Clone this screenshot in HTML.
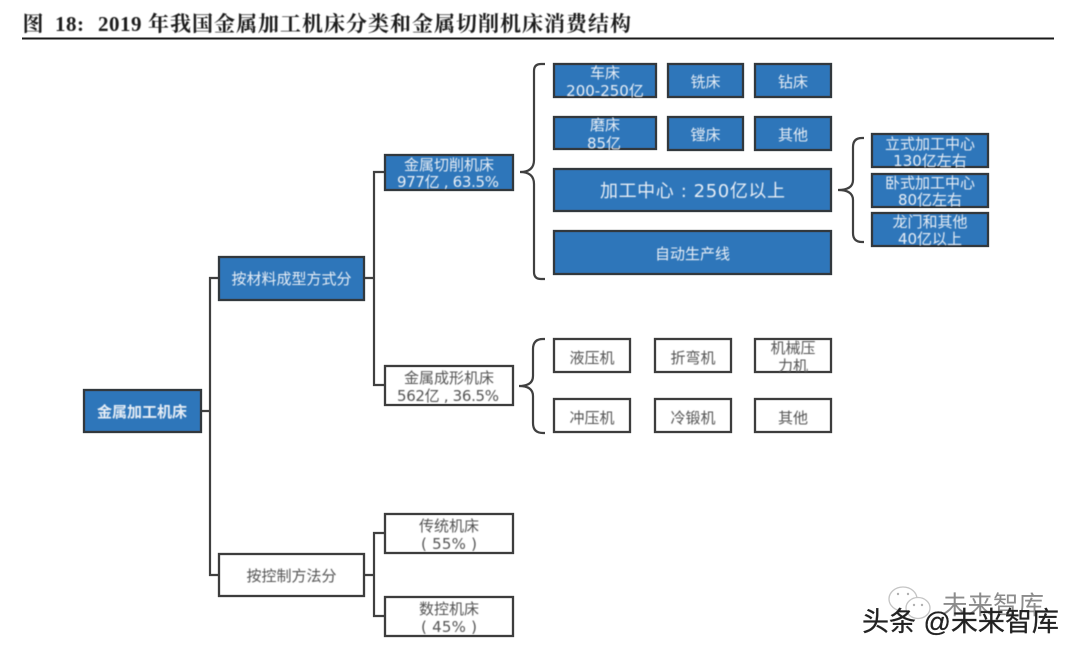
<!DOCTYPE html>
<html lang="zh">
<head>
<meta charset="utf-8">
<title>2019年我国金属加工机床分类和金属切削机床消费结构</title>
<style>
html,body{margin:0;padding:0;background:#fff;width:1080px;height:654px;overflow:hidden}
svg{display:block}
.t{font-family:"DejaVu Sans","Noto Sans CJK SC",sans-serif;font-size:15px;text-anchor:middle}
.w{fill:#e6edf5}
.g{fill:#555}
.b{fill:#2f76ba;stroke:#33373c;stroke-width:2.3}
.n{fill:#fff;stroke:#3c3c3c;stroke-width:2.3}
.l{fill:none;stroke:#3f3f3f;stroke-width:2.2}
.h{font-family:"Liberation Serif","Noto Serif CJK SC",serif;font-weight:700;font-size:21px;fill:#1c1c1c}
</style>
</head>
<body>
<svg width="1080" height="654" viewBox="0 0 1080 654" xmlns="http://www.w3.org/2000/svg">
<defs>
<filter id="s" x="-2%" y="-2%" width="104%" height="104%"><feGaussianBlur stdDeviation="0.35"/></filter>
<filter id="x" x="-2%" y="-2%" width="104%" height="104%"><feGaussianBlur stdDeviation="0.45"/></filter>
</defs>

<g filter="url(#x)">
<text class="h" x="22.500" y="31">图</text>
<text class="h" x="55" y="31" letter-spacing="0.5">18:</text>
<text class="h" x="98" y="31" letter-spacing="0.5">2019</text>
<text class="h" x="148" y="31" letter-spacing="1">年我国金属加工机床分类和金属切削机床消费结构</text>
</g>
<rect x="22" y="37.500" width="1032" height="2" fill="#1a1a1a"/>

<g filter="url(#s)">
<!-- connectors -->
<path class="l" d="M202 411H210M218 278H210V575H218"/>
<path class="l" d="M365 278H374M385 172H374V385H385"/>
<path class="l" d="M365 575H374M385 533H374V616H385"/>
<!-- braces -->
<path class="l" d="M545 64H541Q534 64 534 71V160Q534 172 520 172Q534 172 534 184V272Q534 279 541 279H545"/>
<path class="l" d="M545 339H543Q533 339 533 349V376Q533 386 519 386Q533 386 533 396V423Q533 433 543 433H545"/>
<path class="l" d="M864 138H862Q853 138 853 147V180Q853 190 838 190Q853 190 853 200V233Q853 242 862 242H864"/>

<!-- blue boxes -->
<rect class="b" x="84" y="390" width="117" height="42"/>
<rect class="b" x="219" y="257" width="145" height="43"/>
<rect class="b" x="385" y="155" width="128" height="35"/>
<rect class="b" x="554" y="64" width="102" height="33"/>
<rect class="b" x="668" y="64" width="75" height="33"/>
<rect class="b" x="755" y="64" width="76" height="33"/>
<rect class="b" x="554" y="117" width="102" height="32"/>
<rect class="b" x="668" y="117" width="75" height="33"/>
<rect class="b" x="755" y="117" width="76" height="33"/>
<rect class="b" x="554" y="169" width="277" height="42"/>
<rect class="b" x="554" y="231" width="277" height="43"/>
<rect class="b" x="872" y="134" width="116" height="33"/>
<rect class="b" x="872" y="174" width="116" height="33"/>
<rect class="b" x="872" y="213" width="116" height="33"/>

<!-- white boxes -->
<rect class="n" x="385" y="366" width="128" height="39"/>
<rect class="n" x="219" y="554" width="145" height="42"/>
<rect class="n" x="385" y="514" width="128" height="39"/>
<rect class="n" x="385" y="597" width="128" height="39"/>
<rect class="n" x="554" y="339" width="76" height="33"/>
<rect class="n" x="655" y="339" width="76" height="33"/>
<rect class="n" x="755" y="339" width="76" height="33"/>
<rect class="n" x="554" y="399" width="76" height="33"/>
<rect class="n" x="655" y="399" width="76" height="33"/>
<rect class="n" x="755" y="399" width="76" height="33"/>

<!-- watermark backdrop -->
<g fill="#fff" stroke="#c4c4c4" stroke-width="1.3">
<ellipse cx="903" cy="599" rx="14" ry="12"/>
<ellipse cx="918" cy="608" rx="12" ry="10.500"/>
</g>
<g fill="#b0b0b0">
<circle cx="898" cy="594" r="1.2"/><circle cx="908" cy="594" r="1.2"/>
<circle cx="914" cy="605" r="1.2"/><circle cx="922" cy="605" r="1.2"/>
</g>
<text x="942" y="614" font-family="'Liberation Sans','Noto Sans CJK SC',sans-serif" font-size="25.500" fill="#8c8c8c">未来智库</text>
</g>

<g filter="url(#x)">
<text class="t w" x="142" y="417" font-weight="700">金属加工机床</text>
<text class="t w" x="291.500" y="284">按材料成型方式分</text>
<text class="t w" x="449" y="170">金属切削机床</text>
<text class="t w" x="448" y="187" textLength="102" xml:space="preserve">977亿 , 63.5%</text>
<text class="t w" x="605" y="78">车床</text>
<text class="t w" x="605" y="96">200-250亿</text>
<text class="t w" x="705.500" y="87">铣床</text>
<text class="t w" x="793" y="87">钻床</text>
<text class="t w" x="605" y="130">磨床</text>
<text class="t w" x="604" y="148.500">85亿</text>
<text class="t w" x="705.500" y="140">镗床</text>
<text class="t w" x="793" y="140">其他</text>
<text class="t w" x="692.500" y="197" style="font-size:18px" textLength="185" xml:space="preserve">加工中心 : 250亿以上</text>
<text class="t w" x="692.500" y="259">自动生产线</text>
<text class="t w" x="930" y="149">立式加工中心</text>
<text class="t w" x="930" y="166">130亿左右</text>
<text class="t w" x="930" y="188">卧式加工中心</text>
<text class="t w" x="930" y="205">80亿左右</text>
<text class="t w" x="930" y="227">龙门和其他</text>
<text class="t w" x="930" y="244">40亿以上</text>

<text class="t g" x="449" y="383">金属成形机床</text>
<text class="t g" x="448" y="401" textLength="102" xml:space="preserve">562亿 , 36.5%</text>
<text class="t g" x="291.500" y="581">按控制方法分</text>
<text class="t g" x="449" y="531">传统机床</text>
<text class="t g" x="449" y="549" textLength="56" xml:space="preserve">( 55% )</text>
<text class="t g" x="449" y="614">数控机床</text>
<text class="t g" x="449" y="632" textLength="56" xml:space="preserve">( 45% )</text>
<text class="t g" x="592" y="363">液压机</text>
<text class="t g" x="693" y="363">折弯机</text>
<text class="t g" x="793" y="353">机械压</text>
<text class="t g" x="793" y="371">力机</text>
<text class="t g" x="592" y="423">冲压机</text>
<text class="t g" x="693" y="423">冷锻机</text>
<text class="t g" x="793" y="423">其他</text>
</g>

<text x="862" y="631" font-family="'Liberation Sans','Noto Sans CJK SC',sans-serif" font-size="27" fill="#222" stroke="#222" stroke-width="0.3" xml:space="preserve">头条 @未来智库</text>
</svg>
</body>
</html>
